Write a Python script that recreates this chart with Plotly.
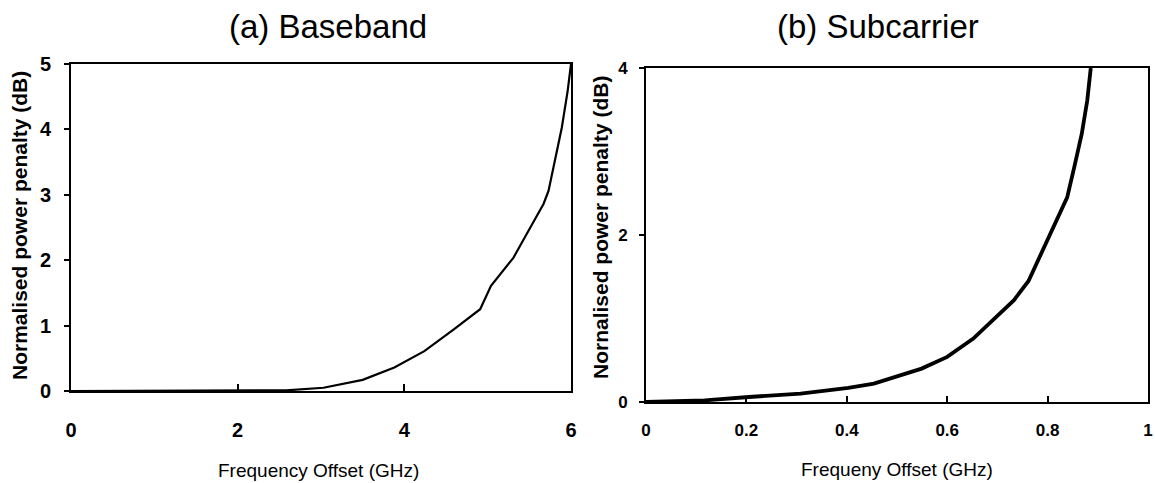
import plotly.graph_objects as go

# (a) Baseband
bb_x = [0, 0.5, 1.0, 1.5, 2.0, 2.58, 3.03, 3.5, 3.88, 4.24, 4.59, 4.91, 5.04, 5.31, 5.49, 5.67, 5.73, 5.82, 5.89, 5.96, 6.0]
bb_y = [0, 0, 0, 0, 0, 0.01, 0.05, 0.17, 0.36, 0.61, 0.94, 1.25, 1.61, 2.04, 2.45, 2.86, 3.06, 3.62, 4.03, 4.59, 5.0]

# (b) Subcarrier
sc_x = [0, 0.117, 0.205, 0.308, 0.403, 0.454, 0.549, 0.6, 0.652, 0.703, 0.733, 0.762, 0.777, 0.799, 0.82, 0.839, 0.853, 0.868, 0.879, 0.886]
sc_y = [0, 0.02, 0.06, 0.10, 0.17, 0.22, 0.40, 0.54, 0.76, 1.04, 1.22, 1.45, 1.65, 1.93, 2.21, 2.45, 2.81, 3.21, 3.61, 4.0]

bb_xticks = [0, 2, 4, 6]
bb_yticks = [0, 1, 2, 3, 4, 5]
sc_xticks = [0, 0.2, 0.4, 0.6, 0.8, 1]
sc_xlabels = ["0", "0.2", "0.4", "0.6", "0.8", "1"]
sc_yticks = [0, 2, 4]

W, H = 1155, 483
FONT = "Liberation Sans, Arial, sans-serif"


def px(x):
    return x / W


def py(y):
    return 1 - y / H


fig = go.Figure()
fig.add_trace(go.Scatter(x=bb_x, y=bb_y, mode="lines", line=dict(color="black", width=2.2),
                         xaxis="x", yaxis="y", showlegend=False, cliponaxis=False))
fig.add_trace(go.Scatter(x=sc_x, y=sc_y, mode="lines", line=dict(color="black", width=3.8),
                         xaxis="x2", yaxis="y2", showlegend=False, cliponaxis=False))

axis_common = dict(showgrid=False, zeroline=False, showline=True, mirror=True,
                   linecolor="black", tickcolor="black", automargin=False)

fig.update_layout(
    width=W, height=H,
    margin=dict(l=0, r=0, t=0, b=0),
    paper_bgcolor="white", plot_bgcolor="white",
    font=dict(family=FONT, color="black"),
    xaxis=dict(domain=[px(71), px(571)], range=[0, 6], tickvals=bb_xticks,
               ticks="inside", ticklen=7, tickwidth=1.5, linewidth=2,
               tickfont=dict(size=20, family=FONT, weight="bold"), ticklabelstandoff=20,
               anchor="y", **axis_common),
    yaxis=dict(domain=[py(391), py(64)], range=[0, 5], tickvals=bb_yticks,
               ticks="outside", ticklen=5, tickwidth=1.5, linewidth=2,
               tickfont=dict(size=20, family=FONT, weight="bold"), ticklabelstandoff=9,
               anchor="x", **axis_common),
    xaxis2=dict(domain=[px(646), px(1148)], range=[0, 1], tickvals=sc_xticks,
                ticktext=sc_xlabels,
                ticks="inside", ticklen=6, tickwidth=1.5, linewidth=2,
                tickfont=dict(size=17, family=FONT, weight="bold"), ticklabelstandoff=12,
                anchor="y2", **axis_common),
    yaxis2=dict(domain=[py(402), py(68)], range=[0, 4], tickvals=sc_yticks,
                ticks="outside", ticklen=5, tickwidth=1.5, linewidth=2,
                tickfont=dict(size=17, family=FONT, weight="bold"), ticklabelstandoff=8,
                anchor="x2", **axis_common),
    annotations=[
        dict(text="(a) Baseband", x=px(328), y=py(27), xref="paper", yref="paper",
             showarrow=False, font=dict(size=33, family=FONT), xanchor="center", yanchor="middle"),
        dict(text="(b) Subcarrier", x=px(878), y=py(27), xref="paper", yref="paper",
             showarrow=False, font=dict(size=33, family=FONT), xanchor="center", yanchor="middle"),
        dict(text="Frequency Offset (GHz)", x=px(318), y=py(470), xref="paper", yref="paper",
             showarrow=False, font=dict(size=19, family=FONT), xanchor="center", yanchor="middle"),
        dict(text="Frequeny Offset (GHz)", x=px(897), y=py(469), xref="paper", yref="paper",
             showarrow=False, font=dict(size=19, family=FONT), xanchor="center", yanchor="middle"),
        dict(text="Normalised power penalty (dB)", x=px(20), y=py(226), xref="paper", yref="paper",
             showarrow=False, textangle=-90, font=dict(size=21, family=FONT, weight="bold"),
             xanchor="center", yanchor="middle"),
        dict(text="Nornalised power penalty (dB)", x=px(600), y=py(228), xref="paper", yref="paper",
             showarrow=False, textangle=-90, font=dict(size=21, family=FONT, weight="bold"),
             xanchor="center", yanchor="middle"),
    ],
)

fig.write_html(
    "out.html",
    config={"displayModeBar": False},
    post_script="document.body.style.margin='0';document.body.style.overflow='hidden';",
)
